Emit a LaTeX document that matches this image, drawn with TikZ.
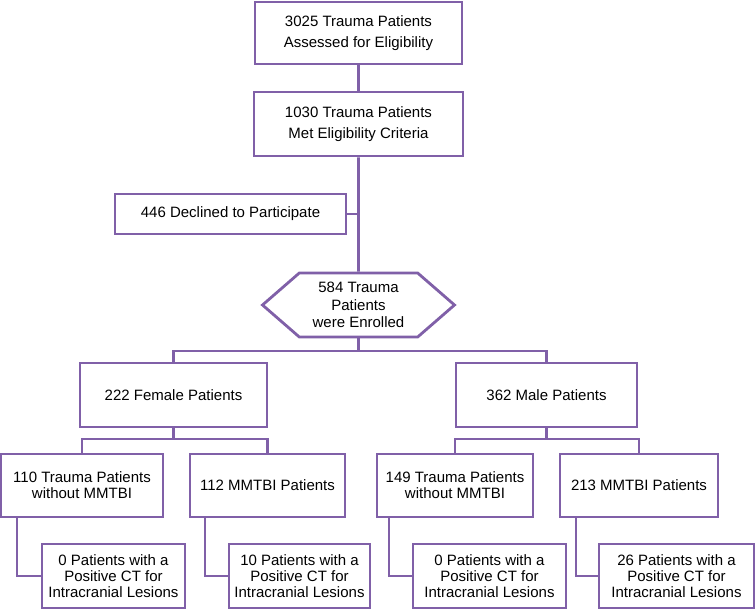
\documentclass[tikz,border=0pt]{standalone}
\usepackage{fontspec}
\setmainfont{Liberation Sans}
\usetikzlibrary{shapes.symbols}
\definecolor{flowpurple}{RGB}{128,96,168}
\begin{document}
\begin{tikzpicture}[x=1pt,y=-1pt,
    box/.style={draw=flowpurple, line width=2.8pt, fill=white, align=center, inner sep=2pt,
        font=\fontsize{15}{21}\selectfont},
    tightbox/.style={box, font=\fontsize{15}{16}\selectfont},
    link/.style={draw=flowpurple, line width=2.8pt}]
    \useasboundingbox (0,0) rectangle (756,610);
    \node[box, minimum width=207, minimum height=62] (assessed) at (358.5,33) {3025 Trauma Patients\\Assessed for Eligibility};
    \node[box, minimum width=209, minimum height=64] (eligible) at (358.5,124) {1030 Trauma Patients\\Met Eligibility Criteria};
    \node[box, minimum width=231, minimum height=40] (declined) at (230.5,214) {446 Declined to Participate};
    \node[box, font=\fontsize{15}{17.5}\selectfont, shape=signal, signal to=west and east, signal pointer angle=82,
        minimum width=192, minimum height=64] (enrolled) at (358.5,305) {584 Trauma\\Patients\\were Enrolled};
    \node[box, minimum width=187, minimum height=64] (female) at (173.5,395) {222 Female Patients};
    \node[box, minimum width=181, minimum height=64] (male) at (546.5,395) {362 Male Patients};
    \node[tightbox, minimum width=162, minimum height=63] (femnomm) at (82,485.5) {110 Trauma Patients\\without MMTBI};
    \node[tightbox, minimum width=155, minimum height=63] (femmm) at (267.5,485.5) {112 MMTBI Patients};
    \node[tightbox, minimum width=156, minimum height=63] (malnomm) at (455,485.5) {149 Trauma Patients\\without MMTBI};
    \node[tightbox, minimum width=158, minimum height=63] (malmm) at (639,485.5) {213 MMTBI Patients};
    \node[tightbox, minimum width=143, minimum height=64] (femnommct) at (113.5,576) {0 Patients with a\\Positive CT for\\Intracranial Lesions};
    \node[tightbox, minimum width=141, minimum height=64] (femmmct) at (299.5,576) {10 Patients with a\\Positive CT for\\Intracranial Lesions};
    \node[tightbox, minimum width=153, minimum height=64] (malnommct) at (489.5,576) {0 Patients with a\\Positive CT for\\Intracranial Lesions};
    \node[tightbox, minimum width=155, minimum height=64] (malmmct) at (676.5,576) {26 Patients with a\\Positive CT for\\Intracranial Lesions};
    \coordinate (sexsplit) at (358.5,351);
    \coordinate (femsplit) at (173.5,439);
    \coordinate (malsplit) at (546.5,439);
    \draw[link] (assessed) -- (eligible);
    \draw[link] (eligible) -- (enrolled);
    \draw[link] (declined.east) -- (declined.east -| eligible.south);
    \draw[link] (enrolled.south) -- (sexsplit);
    \draw[link] (female.north) |- (sexsplit) -| (male.north);
    \draw[link] (female.south) -- (femsplit);
    \draw[link] (femnomm.north) |- (femsplit) -| (femmm.north);
    \draw[link] (male.south) -- (malsplit);
    \draw[link] (malnomm.north) |- (malsplit) -| (malmm.north);
    \draw[link] ([xshift=-65pt]femnomm.south) |- (femnommct.west);
    \draw[link] ([xshift=-62.5pt]femmm.south) |- (femmmct.west);
    \draw[link] ([xshift=-66pt]malnomm.south) |- (malnommct.west);
    \draw[link] ([xshift=-63pt]malmm.south) |- (malmmct.west);
\end{tikzpicture}
\end{document}
